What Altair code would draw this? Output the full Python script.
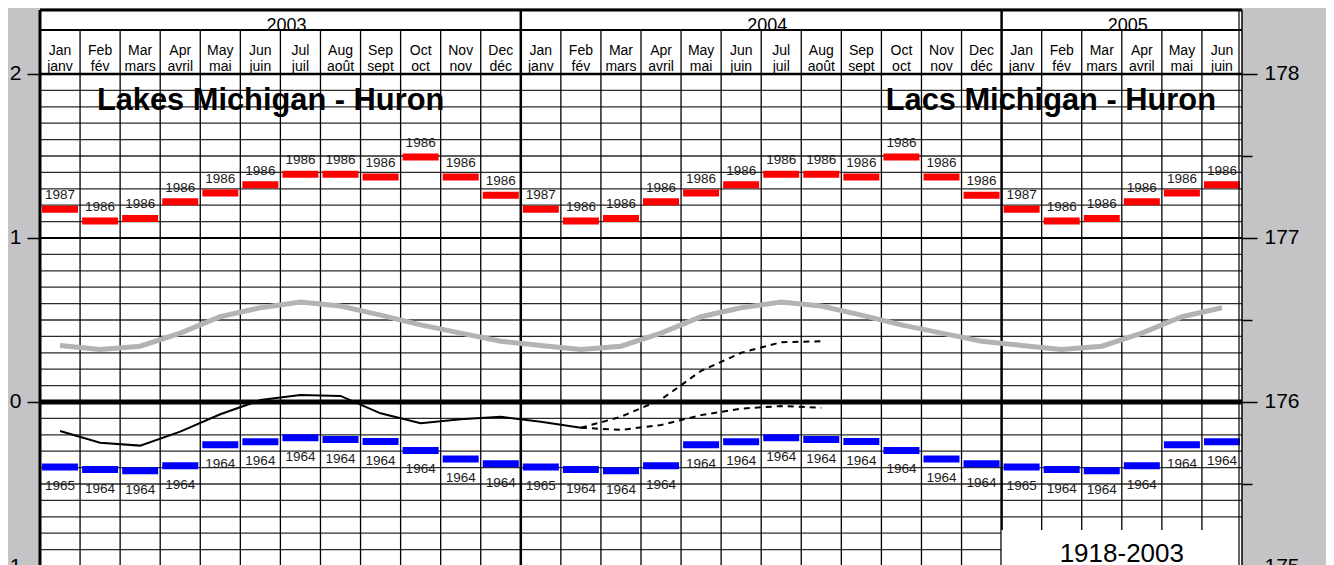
import altair as alt
import pandas as pd

# ---------------- data ----------------
months_en = ["Jan", "Feb", "Mar", "Apr", "May", "Jun", "Jul", "Aug", "Sep", "Oct", "Nov", "Dec"]
months_fr = ["janv", "fév", "mars", "avril", "mai", "juin", "juil", "août", "sept", "oct", "nov", "déc"]
years = ["2003", "2004", "2005"]
months_shown = 30

record_high = [1.175, 1.104, 1.119, 1.221, 1.274, 1.324, 1.388, 1.388, 1.372, 1.494, 1.372, 1.260]
record_high_year = ["1987", "1986", "1986", "1986", "1986", "1986", "1986", "1986", "1986", "1986", "1986", "1986"]
record_low = [-0.396, -0.412, -0.419, -0.389, -0.261, -0.242, -0.218, -0.229, -0.241, -0.295, -0.347, -0.376]
record_low_year = ["1965", "1964", "1964", "1964", "1964", "1964", "1964", "1964", "1964", "1964", "1964", "1964"]
average_level = [0.345, 0.320, 0.340, 0.420, 0.520, 0.575, 0.610, 0.585, 0.530, 0.470, 0.420, 0.370]
actual_level = [-0.177, -0.248, -0.266, -0.181, -0.075, 0.012, 0.043, 0.037, -0.069, -0.130, -0.105, -0.090,
                -0.120, -0.157]
forecast_start = 13  # Feb 2004
forecast_high = [-0.157, -0.090, 0.015, 0.190, 0.300, 0.365, 0.370]
forecast_low = [-0.157, -0.170, -0.140, -0.080, -0.040, -0.025, -0.035]
datum_offset = 176  # right axis in metres
left_ticks = [-1, 0, 1, 2]
right_ticks = [-1, -0.5, 0, 0.5, 1, 1.5, 2]
title_en = "Lakes Michigan - Huron"
title_fr = "Lacs Michigan - Huron"
period_label = "1918-2003"

# ---------------- layout constants ----------------
Y_MIN, Y_MAX = -1.0, 2.3902
Y_YEAR_ROW = 2.268
Y_YEAR_TEXT = 2.262
Y_MONTH_EN = 2.116
Y_MONTH_FR = 2.018
Y_TITLE = 1.780
Y_BOX_TOP = -0.780
Y_BOX_TEXT = -0.976
FONT = "Liberation Sans"

xscale = alt.Scale(domain=[0, months_shown], nice=False, zero=False)
yscale = alt.Scale(domain=[Y_MIN, Y_MAX], nice=False, zero=False)


def X(f):
    return alt.X(f, type="quantitative", scale=xscale, axis=None)


def Y(f, axis=None):
    return alt.Y(f, type="quantitative", scale=yscale, axis=axis)


def Xd(v):
    return alt.XDatum(v, type="quantitative", scale=xscale, axis=None)


def Yd(v):
    return alt.YDatum(v, type="quantitative", scale=yscale, axis=None)


# ---------------- tables ----------------
rows = []
for i in range(months_shown):
    m = i % 12
    rows.append(dict(xc=i + 0.5, en=months_en[m], fr=months_fr[m],
                     hi=record_high[m], hiy=record_high_year[m],
                     lo=record_low[m], loy=record_low_year[m],
                     avg=average_level[m]))
df = pd.DataFrame(rows)
one = pd.DataFrame({"k": [0]})

df_act = pd.DataFrame({"xc": [i + 0.5 for i in range(len(actual_level))], "v": actual_level})
fc_rows = []
for k, v in enumerate(forecast_high):
    fc_rows.append(dict(xc=forecast_start + k + 0.5, v=v, s="high"))
for k, v in enumerate(forecast_low):
    fc_rows.append(dict(xc=forecast_start + k + 0.5, v=v, s="low"))
df_fc = pd.DataFrame(fc_rows)

df_years = pd.DataFrame({"xc": [6, 18, 27], "t": years})
grid_h = pd.DataFrame({"v": [round(-1 + 0.1 * k, 1) for k in range(1, 30)]})
grid_v = pd.DataFrame({"b": [b for b in range(1, months_shown) if b % 12 != 0]})
year_v = pd.DataFrame({"b": [12, 24]})

# ---------------- layers ----------------
hgrid = alt.Chart(grid_h).mark_rule(color="#2a2a2a", strokeWidth=1.3).encode(y=Y("v"))
vgrid = alt.Chart(grid_v).mark_rule(color="#000000", strokeWidth=1.3).encode(
    x=X("b"), y=Yd(Y_MIN), y2=alt.Y2Datum(Y_YEAR_ROW))
thick_h = [
    alt.Chart(one).mark_rule(color="black", strokeWidth=5).encode(y=Yd(0)),
    alt.Chart(one).mark_rule(color="black", strokeWidth=2).encode(y=Yd(1)),
    alt.Chart(one).mark_rule(color="black", strokeWidth=2.6).encode(y=Yd(2)),
    alt.Chart(one).mark_rule(color="black", strokeWidth=2).encode(y=Yd(Y_YEAR_ROW)),
    alt.Chart(one).mark_rule(color="black", strokeWidth=3).encode(y=Yd(Y_MAX)),
]
yearlines = alt.Chart(year_v).mark_rule(color="black", strokeWidth=2.5).encode(x=X("b"))
leftedge = alt.Chart(one).mark_rule(color="black", strokeWidth=3).encode(x=Xd(0))

box = alt.Chart(one).mark_rect(color="white").encode(
    x=Xd(24), x2=alt.X2Datum(30), y=Yd(Y_MIN), y2=alt.Y2Datum(Y_BOX_TOP))
box_text = alt.Chart(one).mark_text(font=FONT, fontSize=26, color="black", baseline="alphabetic").encode(
    x=Xd(27), y=Yd(Y_BOX_TEXT), text=alt.value(period_label))

rightedge1 = alt.Chart(one).mark_rule(color="black", strokeWidth=1.5).encode(x=Xd(30))
rightedge2 = alt.Chart(one).mark_rule(color="black", strokeWidth=1.2, xOffset=-3).encode(x=Xd(30))

avg_line = alt.Chart(df).mark_line(color="#b3b3b3", strokeWidth=5).encode(x=X("xc"), y=Y("avg"))
act_line = alt.Chart(df_act).mark_line(color="black", strokeWidth=2).encode(x=X("xc"), y=Y("v"))
fc_line = alt.Chart(df_fc).mark_line(color="black", strokeWidth=2, strokeDash=[6, 5]).encode(
    x=X("xc"), y=Y("v"), detail="s:N")

left_axis = alt.Axis(orient="left", values=left_ticks, format="d", domain=False, grid=False,
                     tickColor="black", tickWidth=1.5, tickSize=13, labelFont=FONT,
                     labelFontSize=21, labelColor="black", labelPadding=6,
                     labelFlush=False, labelOverlap=False, labelBound=False, title=None)
right_axis = alt.Axis(orient="right", values=right_ticks, domain=False, grid=False,
                      labelExpr=f"datum.value % 1 === 0 ? format(datum.value + {datum_offset}, 'd') : ''",
                      tickColor="black", tickWidth=1.5,
                      tickSize={"condition": {"test": "datum.value % 1 === 0", "value": 15}, "value": 10},
                      labelFont=FONT, labelFontSize=21, labelColor="black", labelPadding=7,
                      labelFlush=False, labelOverlap=False, labelBound=False, title=None)

hi_bars = alt.Chart(df).mark_tick(color="#ff0000", orient="horizontal", thickness=7, size=36,
                                  opacity=1).encode(x=X("xc"), y=Y("hi", axis=left_axis))
lo_bars = alt.Chart(df).mark_tick(color="#0000ff", orient="horizontal", thickness=7, size=36,
                                  opacity=1).encode(x=X("xc"), y=Y("lo", axis=right_axis))
hi_text = alt.Chart(df).mark_text(font=FONT, fontSize=13.5, color="#1a1a1a", dy=-14).encode(
    x=X("xc"), y=Y("hi"), text="hiy:N")
lo_text = alt.Chart(df).mark_text(font=FONT, fontSize=13.5, color="#1a1a1a", dy=19).encode(
    x=X("xc"), y=Y("lo"), text="loy:N")

m_en = alt.Chart(df).mark_text(font=FONT, fontSize=14, color="black", baseline="alphabetic").encode(
    x=X("xc"), y=Yd(Y_MONTH_EN), text="en:N")
m_fr = alt.Chart(df).mark_text(font=FONT, fontSize=14, color="black", baseline="alphabetic").encode(
    x=X("xc"), y=Yd(Y_MONTH_FR), text="fr:N")
yr_text = alt.Chart(df_years).mark_text(font=FONT, fontSize=18, color="black", baseline="alphabetic",
                                        dx=6).encode(x=X("xc"), y=Yd(Y_YEAR_TEXT), text="t:N")
t_left = alt.Chart(one).mark_text(font=FONT, fontSize=30.8, fontWeight="bold", color="black",
                                  align="left", baseline="alphabetic").encode(
    x=Xd(1.42), y=Yd(Y_TITLE), text=alt.value(title_en))
t_right = alt.Chart(one).mark_text(font=FONT, fontSize=30.8, fontWeight="bold", color="black",
                                   align="right", baseline="alphabetic").encode(
    x=Xd(29.35), y=Yd(Y_TITLE), text=alt.value(title_fr))

chart = alt.layer(
    hgrid, vgrid, *thick_h, yearlines, leftedge,
    avg_line, act_line, fc_line,
    hi_bars, lo_bars, hi_text, lo_text,
    box, box_text, rightedge1, rightedge2,
    m_en, m_fr, yr_text, t_left, t_right,
).resolve_axis(y="independent").properties(
    width=1202, height=556,
    padding={"left": 32, "top": 2, "right": 84, "bottom": 0},
    autosize="none",
    background="#c4c4c6",
).configure_view(stroke=None, fill="white")

chart.save("out.html", embed_options={"renderer": "svg", "actions": False})
